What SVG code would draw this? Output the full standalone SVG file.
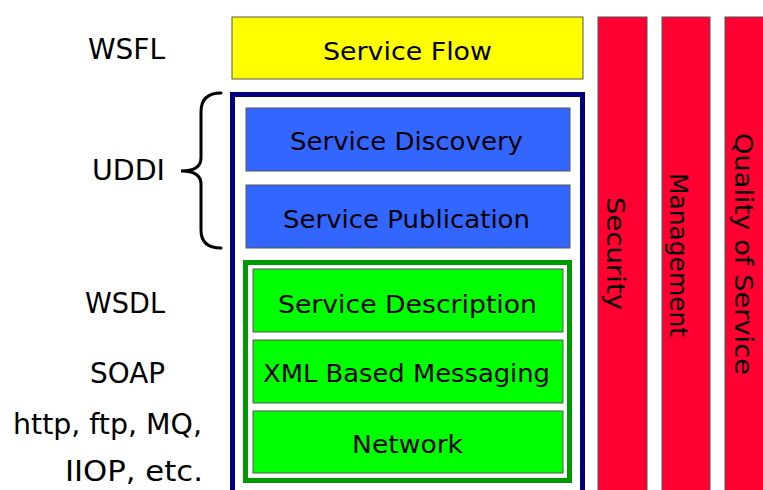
<svg xmlns="http://www.w3.org/2000/svg" width="763" height="490" viewBox="0 0 763 490">
  <style>
    text { font-family: "DejaVu Sans", "Liberation Sans", sans-serif; font-size: 24px; fill: #000; }
    .side { font-size: 28px; }
    .box { stroke: #555; stroke-width: 1; }
    .yellow { fill: #FFFF00; }
    .blue { fill: #3366FF; }
    .green { fill: #00FF00; }
    .red { fill: #FF0033; stroke: #555; stroke-width: 1; }
    .frame { fill: none; stroke: #000080; stroke-width: 5; }
    .inner { fill: none; stroke: #009900; stroke-width: 5; }
    .brace { fill: none; stroke: #000; stroke-width: 3; stroke-linecap: round; }
  </style>

  <rect width="763" height="490" fill="#fff"/>

  <!-- Left-hand protocol labels -->
  <g id="labels">
    <text class="side" x="88" y="59" textLength="77" lengthAdjust="spacingAndGlyphs">WSFL</text>
    <text class="side" x="92" y="180" textLength="73" lengthAdjust="spacingAndGlyphs">UDDI</text>
    <text class="side" x="85" y="313" textLength="80" lengthAdjust="spacingAndGlyphs">WSDL</text>
    <text class="side" x="90" y="383" textLength="75" lengthAdjust="spacingAndGlyphs">SOAP</text>
    <text class="side" x="13" y="434" textLength="189" lengthAdjust="spacingAndGlyphs">http, ftp, MQ,</text>
    <text class="side" x="65" y="481" textLength="138" lengthAdjust="spacingAndGlyphs">IIOP, etc.</text>
  </g>

  <!-- Curly brace grouping the UDDI layers -->
  <g id="connectors">
    <path class="brace" d="M221,93 Q201,93 201,112 L201,158 Q201,171 181,171 Q201,171 201,184 L201,230 Q201,248 221,248"/>
  </g>

  <!-- Top layer -->
  <g id="service-flow">
    <rect class="box yellow" x="232" y="17" width="351" height="62"/>
    <text x="323" y="60" textLength="169" lengthAdjust="spacingAndGlyphs">Service Flow</text>
  </g>

  <!-- Navy frame around the core stack -->
  <g id="core-stack">
    <rect class="frame" x="232.5" y="94.5" width="350" height="420"/>
  </g>

  <g id="service-discovery">
    <rect class="box blue" x="246" y="108" width="324" height="63"/>
    <text x="290" y="150" textLength="233" lengthAdjust="spacingAndGlyphs">Service Discovery</text>
  </g>

  <g id="service-publication">
    <rect class="box blue" x="246" y="185" width="324" height="63"/>
    <text x="283" y="228" textLength="247" lengthAdjust="spacingAndGlyphs">Service Publication</text>
  </g>

  <!-- Green frame around the WSDL / SOAP / transport layers -->
  <g id="base-stack">
    <rect class="inner" x="245.5" y="262.5" width="324" height="218"/>
  </g>

  <g id="service-description">
    <rect class="box green" x="253" y="269" width="310" height="63"/>
    <text x="278" y="313" textLength="259" lengthAdjust="spacingAndGlyphs">Service Description</text>
  </g>

  <g id="xml-messaging">
    <rect class="box green" x="253" y="340" width="310" height="63"/>
    <text x="263" y="382" textLength="287" lengthAdjust="spacingAndGlyphs">XML Based Messaging</text>
  </g>

  <g id="network">
    <rect class="box green" x="253" y="411" width="310" height="62"/>
    <text x="352" y="453" textLength="111" lengthAdjust="spacingAndGlyphs">Network</text>
  </g>

  <!-- Vertical cross-cutting concerns -->
  <g id="security">
    <rect class="red" x="598" y="17" width="49" height="480"/>
    <text transform="translate(607,197) rotate(90)" textLength="113" lengthAdjust="spacingAndGlyphs">Security</text>
  </g>

  <g id="management">
    <rect class="red" x="662" y="17" width="48" height="480"/>
    <text transform="translate(670,173) rotate(90)" textLength="164" lengthAdjust="spacingAndGlyphs">Management</text>
  </g>

  <g id="quality-of-service">
    <rect class="red" x="725" y="17" width="48" height="480"/>
    <text transform="translate(735,133) rotate(90)" textLength="242" lengthAdjust="spacingAndGlyphs">Quality of Service</text>
  </g>
</svg>
